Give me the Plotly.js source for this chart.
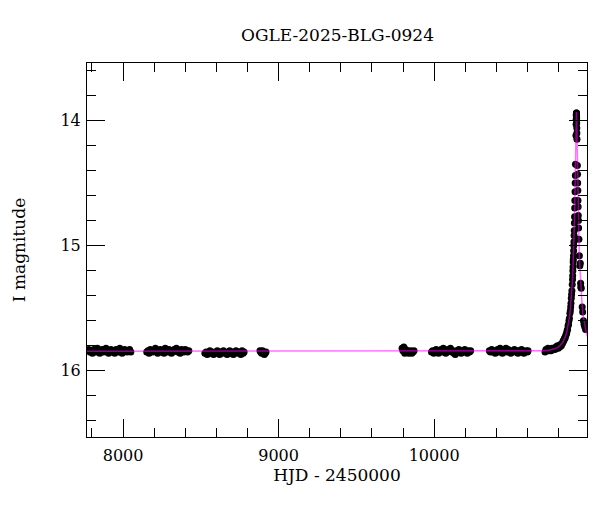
<!DOCTYPE html>
<html>
<head>
<meta charset="utf-8">
<script src="https://cdn.plot.ly/plotly-3.0.1.min.js"></script>
<style>html,body{margin:0;padding:0;background:#fff;}#chart{width:600px;height:512px;}</style>
</head>
<body>
<div id="chart"></div>
<script>
// Observations (HJD - 2450000, I mag), per observing season
const s1T = [7772,7779,7787,7794,7803,7811,7818,7826,7835,7842,7850,7859,7866,7874,7883,7890,7898,7907,7914,7922,7931,7938,7946,7955,7962,7970,7979,7986,7994,8003,8010,8018,8027,8034,8042,8050];
const s1M = [15.84,15.83,15.85,15.84,15.86,15.83,15.84,15.85,15.82,15.84,15.86,15.84,15.83,15.85,15.84,15.82,15.85,15.86,15.84,15.83,15.85,15.84,15.86,15.83,15.84,15.85,15.82,15.84,15.86,15.85,15.83,15.84,15.85,15.84,15.83,15.85];
const s2T = [8152,8160,8167,8175,8184,8191,8199,8208,8215,8223,8232,8239,8247,8256,8263,8271,8280,8287,8295,8304,8311,8319,8328,8335,8343,8352,8359,8367,8376,8383,8391,8400,8407,8415,8423];
const s2M = [15.85,15.84,15.86,15.83,15.84,15.85,15.84,15.82,15.85,15.86,15.84,15.83,15.85,15.84,15.86,15.82,15.84,15.85,15.83,15.84,15.86,15.85,15.83,15.84,15.82,15.85,15.84,15.86,15.83,15.84,15.85,15.83,15.84,15.85,15.84];
const s3T = [8526,8534,8541,8549,8558,8565,8573,8582,8589,8597,8606,8613,8621,8630,8637,8645,8654,8661,8669,8678,8685,8693,8702,8709,8717,8726,8733,8741,8750,8757,8765,8772,8778];
const s3M = [15.86,15.85,15.87,15.86,15.84,15.86,15.85,15.87,15.86,15.85,15.84,15.86,15.87,15.85,15.86,15.84,15.85,15.86,15.87,15.85,15.84,15.86,15.85,15.87,15.86,15.84,15.85,15.86,15.85,15.87,15.84,15.86,15.85];
const s4T = [8880,8885,8891,8897,8903,8908,8914,8919];
const s4M = [15.84,15.85,15.86,15.84,15.85,15.87,15.86,15.85];
const s5T = [9794,9799,9805,9811,9817,9824,9830,9837,9843,9850,9857,9864,9871];
const s5M = [15.82,15.84,15.81,15.86,15.83,15.85,15.84,15.86,15.85,15.84,15.86,15.85,15.84];
const s6T = [9983,9990,9998,10006,10013,10021,10029,10036,10044,10052,10059,10067,10075,10082,10090,10098,10105,10113,10121,10128,10136,10144,10151,10159,10167,10174,10182,10190,10197,10205,10213,10220,10228,10235];
const s6M = [15.85,15.84,15.86,15.84,15.83,15.85,15.86,15.84,15.83,15.85,15.82,15.84,15.86,15.85,15.83,15.84,15.82,15.85,15.84,15.86,15.87,15.84,15.85,15.83,15.84,15.86,15.85,15.84,15.83,15.85,15.86,15.84,15.85,15.84];
const s7T = [10355,10362,10370,10378,10385,10393,10401,10408,10416,10424,10431,10439,10447,10454,10462,10470,10477,10485,10493,10500,10508,10516,10523,10531,10539,10546,10554,10562,10569,10577,10585,10592,10600,10604];
const s7M = [15.84,15.85,15.83,15.85,15.84,15.86,15.84,15.83,15.85,15.82,15.84,15.86,15.85,15.84,15.82,15.85,15.83,15.84,15.86,15.85,15.84,15.83,15.85,15.84,15.86,15.84,15.85,15.83,15.84,15.86,15.85,15.84,15.85,15.84];
const s8T = [10713,10719,10726,10732,10739,10745,10752,10758,10764,10770,10776,10782,10788,10793,10798,10803,10808,10813,10818,10822,10826,10830,10834,10838,10842,10846,10849,10852,10855,10858,10861,10864,10867,10870,10873,10876,10878,10880,10882,10884,10886,10888,10890];
const s8M = [15.85,15.83,15.84,15.82,15.84,15.83,15.84,15.82,15.83,15.82,15.83,15.81,15.82,15.80,15.82,15.80,15.81,15.79,15.80,15.78,15.78,15.76,15.76,15.74,15.74,15.72,15.71,15.70,15.68,15.67,15.64,15.63,15.60,15.58,15.54,15.52,15.49,15.46,15.42,15.39,15.36,15.31,15.27];
const peakT = [10891,10892,10893,10894,10895,10896,10897,10898,10899,10900,10901,10902,10903,10904,10905,10906,10907,10908,10909,10912,10913,10913.5,10914,10914.5,10915,10915.5,10916,10916.5,10917,10917.5,10918,10918.5,10921,10922,10923,10924,10925,10926,10927,10928,10929,10931,10934,10937,10940,10942,10943,10946,10952,10955,10960,10964,10969,10974];
const peakM = [15.24,15.20,15.17,15.13,15.11,15.08,15.04,15.00,14.97,14.92,14.88,14.82,14.77,14.70,14.64,14.57,14.50,14.44,14.35,14.12,14.03,13.99,13.96,13.95,13.94,13.94,13.96,13.98,14.02,14.06,14.10,14.15,14.36,14.43,14.50,14.56,14.64,14.69,14.76,14.80,14.86,14.95,15.08,15.16,15.14,15.30,15.33,15.34,15.49,15.53,15.60,15.63,15.65,15.67];

// Model light curve
const modelT = [7700,10500,10600,10650,10700,10735,10755,10775,10795,10810,10825,10835,10845,10853,10860,10866,10871,10876,10881,10885,10889,10892,10895,10897,10899,10901,10903,10905,10907,10909,10911,10912,10913,10914,10915,10916,10917,10918,10919,10921,10923,10925,10927,10929,10931,10933,10936,10939,10943,10947,10952,10958,10965,10972,10980,10990];
const modelM = [15.845,15.8445,15.8435,15.842,15.840,15.836,15.8315,15.825,15.813,15.799,15.777,15.755,15.724,15.691,15.652,15.609,15.565,15.510,15.440,15.371,15.287,15.210,15.118,15.046,14.964,14.870,14.762,14.636,14.490,14.325,14.149,14.066,13.996,13.948,13.931,13.948,13.996,14.066,14.149,14.325,14.490,14.636,14.762,14.870,14.964,15.046,15.149,15.237,15.337,15.407,15.484,15.555,15.615,15.664,15.704,15.738];

const obsT = [].concat(s1T,s2T,s3T,s4T,s5T,s6T,s7T,s8T,peakT);
const obsM = [].concat(s1M,s2M,s3M,s4M,s5M,s6M,s7M,s8M,peakM);

const FONT = 'DejaVu Serif, serif';
const data = [
  {x: obsT, y: obsM, type: 'scatter', mode: 'markers',
   marker: {color: '#000', size: 7},
   error_y: {type: 'constant', value: 0.012, color: '#000', thickness: 2, width: 0},
   hoverinfo: 'skip'},
  {x: modelT, y: modelM, type: 'scatter', mode: 'lines',
   line: {color: 'rgba(255,0,255,0.55)', width: 1.5}, hoverinfo: 'skip'}
];
const axisCommon = {
  showgrid: false, zeroline: false, showline: true, linecolor: '#000', linewidth: 1,
  mirror: 'ticks', ticks: 'inside', ticklen: 18, tickwidth: 1, tickcolor: '#000',
  tickformat: 'd', ticklabelstandoff: 4,
  tickfont: {family: FONT, size: 16, color: '#000'}
};
const layout = {
  width: 600, height: 512,
  margin: {l: 87, r: 13, t: 63, b: 75},
  paper_bgcolor: '#fff', plot_bgcolor: '#fff',
  showlegend: false,
  title: {text: 'OGLE-2025-BLG-0924', font: {family: FONT, size: 17, color: '#000'}, x: 0.5625, xanchor: 'center', y: 0.931, yanchor: 'middle'},
  xaxis: Object.assign({}, axisCommon, {
    range: [7768, 10983], tick0: 0, dtick: 1000,
    minor: {dtick: 200, ticklen: 9, ticks: 'inside', tickcolor: '#000', tickwidth: 1},
    title: {text: 'HJD - 2450000', font: {family: FONT, size: 17, color: '#000'}, standoff: 0}
  }),
  yaxis: Object.assign({}, axisCommon, {
    range: [16.53, 13.54], tick0: 0, dtick: 1, ticklabelstandoff: 2,
    minor: {dtick: 0.2, ticklen: 9, ticks: 'inside', tickcolor: '#000', tickwidth: 1},
    title: {text: 'I magnitude', font: {family: FONT, size: 17, color: '#000'}, standoff: 30}
  })
};
Plotly.newPlot('chart', data, layout, {displayModeBar: false, staticPlot: true});
</script>
</body>
</html>
